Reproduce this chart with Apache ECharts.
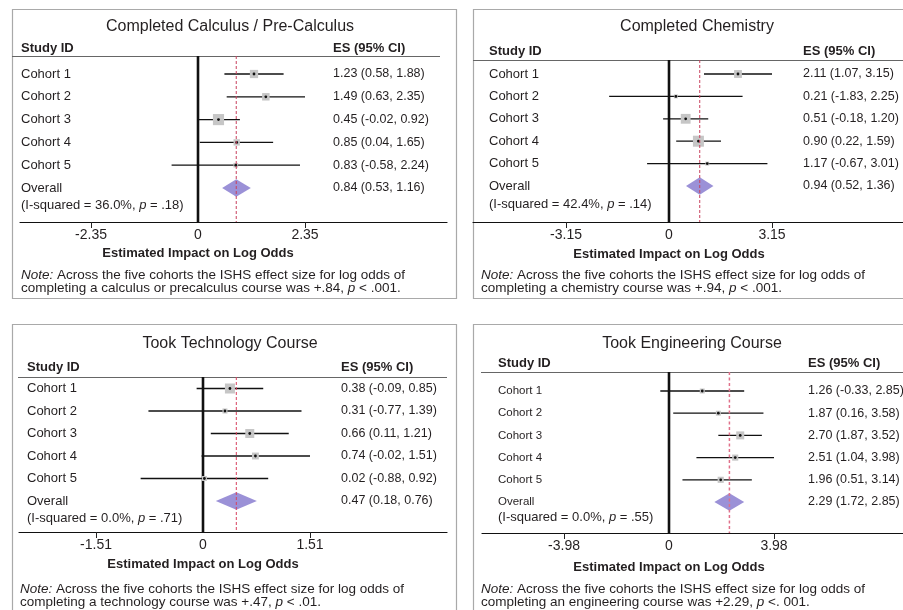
<!DOCTYPE html>
<html><head><meta charset="utf-8">
<script src="https://cdn.jsdelivr.net/npm/echarts@6/dist/echarts.min.js"></script>
<style>html,body{margin:0;padding:0;background:#fff}#c{width:903px;height:610px}</style>
</head><body><div id="c"></div>
<script>
// ---------- DATA ----------
const cohorts = ['Cohort 1', 'Cohort 2', 'Cohort 3', 'Cohort 4', 'Cohort 5'];
const overallLabel = 'Overall';
const titles = ['Completed Calculus / Pre-Calculus', 'Completed Chemistry', 'Took Technology Course', 'Took Engineering Course'];
const axisTitle = 'Estimated Impact on Log Odds';
const colHeadLeft = 'Study ID';
const colHeadRight = 'ES (95% CI)';
const tickSteps = [2.35, 3.15, 1.51, 3.98];

const calcES = [1.23, 1.49, 0.45, 0.85, 0.83];
const calcLo = [0.58, 0.63, -0.02, 0.04, -0.58];
const calcHi = [1.88, 2.35, 0.92, 1.65, 2.24];
const calcWt = [22, 18, 40, 13, 7];
const calcOverall = [0.84, 0.53, 1.16];

const chemES = [2.11, 0.21, 0.51, 0.90, 1.17];
const chemLo = [1.07, -1.83, -0.18, 0.22, -0.67];
const chemHi = [3.15, 2.25, 1.20, 1.59, 3.01];
const chemWt = [20, 5, 31, 39, 5];
const chemOverall = [0.94, 0.52, 1.36];

const techES = [0.38, 0.31, 0.66, 0.74, 0.02];
const techLo = [-0.09, -0.77, 0.11, -0.02, -0.88];
const techHi = [0.85, 1.39, 1.21, 1.51, 0.92];
const techWt = [36, 9, 29, 17, 9];
const techOverall = [0.47, 0.18, 0.76];

const engES = [1.26, 1.87, 2.70, 2.51, 1.96];
const engLo = [-0.33, 0.16, 1.87, 1.04, 0.51];
const engHi = [2.85, 3.58, 3.52, 3.98, 3.14];
const engWt = [13, 13, 34, 20, 20];
const engOverall = [2.29, 1.72, 2.85];

const hetI2 = ['36.0', '42.4', '0.0', '0.0'];
const hetP = ['.18', '.14', '.71', '.55'];

const noteLine1 = 'Across the five cohorts the ISHS effect size for log odds of';
const noteLine2 = ['completing a calculus or precalculus course was +.84, ',
                   'completing a chemistry course was +.94, ',
                   'completing a technology course was +.47, ',
                   'completing an engineering course was +2.29, '];
const noteP = ['< .001.', '< .001.', '< .01.', '<. 001.'];

// ---------- LAYOUT / STYLE ----------
const FONT = '"Liberation Sans", Arial, Helvetica, sans-serif';
const TXT = '#231f20';
const NOTE_FS = 13.5;
const panels = [
  {es: calcES, lo: calcLo, hi: calcHi, wt: calcWt, ov: calcOverall},
  {es: chemES, lo: chemLo, hi: chemHi, wt: chemWt, ov: chemOverall},
  {es: techES, lo: techLo, hi: techHi, wt: techWt, ov: techOverall},
  {es: engES, lo: engLo, hi: engHi, wt: engWt, ov: engOverall}
];
const layouts = [
  {box:[12,9,456,298], title:[230,27], headY:48, studyX:21, esX:333, header:[12,440,56], axis:[20,447,222],
   zero:198, tickPx:305, row0:74, step:22.8, hetY:205, labelX:21, cohortFont:13, boxK:1.76,
   axisTitleY:253, noteY:275, noteX:21, red:'#c8405e', redW:1, redDash:[3,2]},
  {box:[473,9,910,298], title:[697,27], headY:51, studyX:489, esX:803, header:[473,903,60], axis:[473,903,222],
   zero:669, tickPx:772, row0:74, step:22.4, hetY:204, labelX:489, cohortFont:13, boxK:1.76,
   axisTitleY:254, noteY:275, noteX:481, red:'#c8405e', redW:1, redDash:[3,2]},
  {box:[12,324,456,620], title:[230,344], headY:367, studyX:27, esX:341, header:[18,447,377], axis:[19,447,532],
   zero:203, tickPx:310, row0:388.5, step:22.5, hetY:518, labelX:27, cohortFont:13, boxK:1.67,
   axisTitleY:564, noteY:589, noteX:20, red:'#d8405e', redW:1, redDash:[3,2]},
  {box:[473,324,910,620], title:[692,344], headY:363, studyX:498, esX:808, header:[481,903,372], axis:[482,903,533],
   zero:669, tickPx:774, row0:391, step:22.2, hetY:517, labelX:498, cohortFont:11.5, boxK:1.37,
   axisTitleY:567, noteY:589, noteX:481, red:'#e0708a', redW:1.5, redDash:[3,2.5]}
];

function fmt(v){ return v.toFixed(2); }

const grids = [], xAxes = [], yAxes = [], series = [], graphics = [];

panels.forEach((p, i) => {
  const L = layouts[i];
  const t = tickSteps[i];
  const ppu = (L.tickPx - L.zero) / t;
  const top = L.header[2], bottom = L.axis[2];
  grids.push({left: L.axis[0], top: top, width: L.axis[1] - L.axis[0], height: bottom - top, containLabel: false});
  xAxes.push({
    type: 'value', gridIndex: i,
    min: (L.axis[0] - L.zero) / ppu, max: (L.axis[1] - L.zero) / ppu,
    splitLine: {show: false},
    axisLine: {show: true, onZero: false, lineStyle: {color: '#111', width: 1.2}},
    axisTick: {show: true, length: 6, customValues: [-t, t], lineStyle: {color: '#222', width: 1}},
    axisLabel: {customValues: [-t, 0, t], formatter: v => (v === 0 ? '0' : String(v)),
                color: TXT, fontSize: 14, fontFamily: FONT, margin: 6}
  });
  yAxes.push({
    type: 'value', gridIndex: i, inverse: true, show: false,
    min: (top - L.row0) / L.step, max: (bottom - L.row0) / L.step
  });

  // reference lines: zero and pooled estimate
  series.push({
    type: 'custom', xAxisIndex: i, yAxisIndex: i, silent: true,
    data: [[0, 0], [p.ov[0], 1]],
    renderItem: (params, api) => {
      const x = api.value(0);
      const ya = yAxes[i].min, yb = yAxes[i].max;
      const a = api.coord([x, ya]), b = api.coord([x, yb]);
      const isZero = api.value(1) === 0;
      return {type: 'line', z2: isZero ? 5 : 30,
        shape: {x1: a[0], y1: a[1], x2: b[0], y2: b[1]},
        style: isZero ? {stroke: '#111', lineWidth: 2.6}
                      : {stroke: L.red, lineWidth: L.redW, lineDash: L.redDash}};
    }
  });

  // study rows
  series.push({
    type: 'custom', xAxisIndex: i, yAxisIndex: i, silent: true,
    data: cohorts.map((c, k) => [p.es[k], p.lo[k], p.hi[k], p.wt[k], k]),
    renderItem: (params, api) => {
      const es = api.value(0), lo = api.value(1), hi = api.value(2), w = api.value(3), row = api.value(4);
      const a = api.coord([lo, row]), b = api.coord([hi, row]), c = api.coord([es, row]);
      const s = L.boxK * Math.sqrt(w);
      return {type: 'group', children: [
        {type: 'line', z2: 10, shape: {x1: a[0], y1: a[1], x2: b[0], y2: b[1]}, style: {stroke: '#111', lineWidth: 1.3}},
        {type: 'rect', z2: 11, shape: {x: c[0] - s / 2, y: c[1] - s / 2, width: s, height: s}, style: {fill: '#c6c6c6'}},
        {type: 'circle', z2: 12, shape: {cx: c[0], cy: c[1], r: 1.4}, style: {fill: '#111'}}
      ]};
    }
  });

  // overall diamond
  series.push({
    type: 'custom', xAxisIndex: i, yAxisIndex: i, silent: true,
    data: [[p.ov[0], p.ov[1], p.ov[2], cohorts.length]],
    renderItem: (params, api) => {
      const es = api.value(0), lo = api.value(1), hi = api.value(2), row = api.value(3);
      const a = api.coord([lo, row]), b = api.coord([hi, row]), c = api.coord([es, row]);
      const h = 8.8;
      return {type: 'polygon', z2: 20,
        shape: {points: [[a[0], a[1]], [c[0], c[1] - h], [b[0], b[1]], [c[0], c[1] + h]]},
        style: {fill: '#9b91d7'}};
    }
  });

  // row texts
  const hetRow = (L.hetY - L.row0) / L.step;
  const rowData = cohorts.map((c, k) => [0, k, k]).concat([[0, cohorts.length, 5], [0, hetRow, 6]]);
  series.push({
    type: 'custom', xAxisIndex: i, yAxisIndex: i, silent: true, clip: false,
    data: rowData,
    renderItem: (params, api) => {
      const row = api.value(1), kind = api.value(2);
      const y = api.coord([0, row])[1];
      const children = [];
      if (kind < 5) {
        children.push({type: 'text', style: {x: L.labelX, y: y, text: cohorts[kind], fill: TXT,
          fontSize: L.cohortFont, fontFamily: FONT, align: 'left', verticalAlign: 'middle'}});
        children.push({type: 'text', style: {x: L.esX, y: y,
          text: fmt(p.es[kind]) + ' (' + fmt(p.lo[kind]) + ', ' + fmt(p.hi[kind]) + ')', fill: TXT,
          fontSize: 12.5, fontFamily: FONT, align: 'left', verticalAlign: 'middle'}});
      } else if (kind === 5) {
        children.push({type: 'text', style: {x: L.labelX, y: y, text: overallLabel, fill: TXT,
          fontSize: L.cohortFont, fontFamily: FONT, align: 'left', verticalAlign: 'middle'}});
        children.push({type: 'text', style: {x: L.esX, y: y,
          text: fmt(p.ov[0]) + ' (' + fmt(p.ov[1]) + ', ' + fmt(p.ov[2]) + ')', fill: TXT,
          fontSize: 12.5, fontFamily: FONT, align: 'left', verticalAlign: 'middle'}});
      } else {
        children.push({type: 'text', style: {x: L.labelX, y: y,
          text: '(I-squared = ' + hetI2[i] + '%, {i|p} = ' + hetP[i] + ')', fill: TXT,
          fontSize: 13, fontFamily: FONT, align: 'left', verticalAlign: 'middle',
          rich: {i: {fontStyle: 'italic', fontSize: 13, fontFamily: FONT, fill: TXT}}}});
      }
      return {type: 'group', children: children};
    }
  });

  // decoration
  const bx = L.box;
  graphics.push({type: 'rect', silent: true, shape: {x: bx[0] + 0.5, y: bx[1] + 0.5, width: bx[2] - bx[0], height: bx[3] - bx[1]},
    style: {fill: 'none', stroke: '#a9a9a9', lineWidth: 1.2}});
  graphics.push({type: 'line', silent: true, shape: {x1: L.header[0], y1: L.header[2] + 0.5, x2: L.header[1], y2: L.header[2] + 0.5},
    style: {stroke: '#666', lineWidth: 1}});
  graphics.push({type: 'text', silent: true, x: L.title[0], y: L.title[1],
    style: {text: titles[i], fill: TXT, fontSize: 16, fontFamily: FONT, align: 'center', verticalAlign: 'middle'}});
  graphics.push({type: 'text', silent: true, x: L.studyX, y: L.headY,
    style: {text: colHeadLeft, fill: TXT, fontSize: 13, fontWeight: 'bold', fontFamily: FONT, align: 'left', verticalAlign: 'middle'}});
  graphics.push({type: 'text', silent: true, x: L.esX, y: L.headY,
    style: {text: colHeadRight, fill: TXT, fontSize: 13, fontWeight: 'bold', fontFamily: FONT, align: 'left', verticalAlign: 'middle'}});
  graphics.push({type: 'text', silent: true, x: L.zero, y: L.axisTitleY,
    style: {text: axisTitle, fill: TXT, fontSize: 13, fontWeight: 'bold', fontFamily: FONT, align: 'center', verticalAlign: 'middle'}});
  graphics.push({type: 'text', silent: true, x: L.noteX, y: L.noteY,
    style: {text: '{i|Note:} ' + noteLine1, fill: TXT, fontSize: NOTE_FS, fontFamily: FONT, align: 'left', verticalAlign: 'middle',
      rich: {i: {fontStyle: 'italic', fontSize: NOTE_FS, fontFamily: FONT, fill: TXT}}}});
  graphics.push({type: 'text', silent: true, x: L.noteX, y: L.noteY + 13,
    style: {text: noteLine2[i] + '{i|p} ' + noteP[i], fill: TXT, fontSize: NOTE_FS, fontFamily: FONT, align: 'left', verticalAlign: 'middle',
      rich: {i: {fontStyle: 'italic', fontSize: NOTE_FS, fontFamily: FONT, fill: TXT}}}});
});

const chart = echarts.init(document.getElementById('c'), null, {renderer: 'canvas'});
chart.setOption({
  animation: false,
  backgroundColor: '#fff',
  grid: grids, xAxis: xAxes, yAxis: yAxes, series: series, graphic: graphics
});
</script></body></html>
